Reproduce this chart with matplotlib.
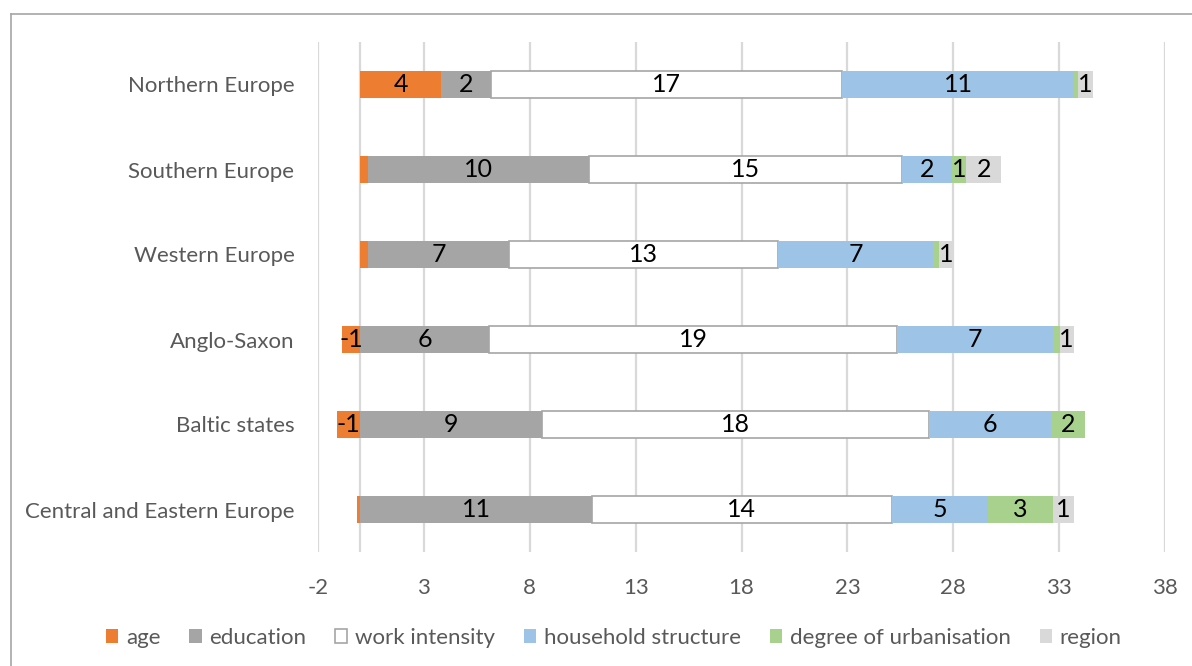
import matplotlib
matplotlib.use("Agg")
import matplotlib.pyplot as plt
from matplotlib.lines import Line2D
import numpy as np

plt.rcParams['font.family'] = ['Lato', 'DejaVu Sans']
plt.rcParams['axes.unicode_minus'] = False

regions = ["Northern Europe", "Southern Europe", "Western Europe",
           "Anglo-Saxon", "Baltic states", "Central and Eastern Europe"]

age = [3.8, 0.37, 0.37, -0.87, -1.1, -0.15]
education = [2.35, 10.45, 6.67, 6.06, 8.6, 10.92]
work_intensity = [16.6, 14.75, 12.68, 19.3, 18.27, 14.2]
household = [10.95, 2.35, 7.34, 7.34, 5.73, 4.52]
urbanisation = [0.17, 0.7, 0.25, 0.32, 1.63, 3.06]
region = [0.74, 1.65, 0.74, 0.67, 0.0, 1.0]

series = [
    ("age", age, "#ED7D31", "none"),
    ("education", education, "#A5A5A5", "none"),
    ("work intensity", work_intensity, "#FFFFFF", "#A5A5A5"),
    ("household structure", household, "#9DC3E6", "none"),
    ("degree of urbanisation", urbanisation, "#A9D18E", "none"),
    ("region", region, "#D9D9D9", "none"),
]

xticks = [-2, 3, 8, 13, 18, 23, 28, 33, 38]

fig = plt.figure(figsize=(11.92, 6.66), dpi=100)
ax = fig.add_axes([318 / 1192, 1 - 552 / 666, (1165 - 318) / 1192, (552 - 42) / 666])

y = np.arange(len(regions))
pos_left = np.zeros(len(regions))
neg_left = np.zeros(len(regions))
for name, vals, col, edge in series:
    vals = np.array(vals)
    left = np.where(vals >= 0, pos_left, neg_left)
    ax.barh(y, vals, left=left, height=0.31, color=col,
            edgecolor=edge, linewidth=1.2 if edge != "none" else 0,
            label=name, zorder=3)
    for i, v in enumerate(vals):
        if abs(round(v)) >= 1:
            ax.text(left[i] + v / 2, y[i], f"{round(v):d}", ha="center",
                    va="center", fontsize=18, color="black", zorder=4)
    pos_left = np.where(vals >= 0, pos_left + vals, pos_left)
    neg_left = np.where(vals < 0, neg_left + vals, neg_left)

ax.set_xlim(-2, 38)
ax.set_ylim(len(regions) - 0.5, -0.5)
ax.set_xticks(xticks)
ax.set_yticks(y)
ax.set_yticklabels(regions)
ax.tick_params(axis="both", length=0, labelsize=16, labelcolor="#595959")
ax.tick_params(axis="x", pad=19)
ax.tick_params(axis="y", pad=17)
for s in ax.spines.values():
    s.set_visible(False)
ax.grid(axis="x", color="#D9D9D9", linewidth=1.6, zorder=0)
ax.axvline(0, color="#D9D9D9", linewidth=1.6, zorder=1)

handles, labels = ax.get_legend_handles_labels()
fig.legend(handles, labels, loc="center", bbox_to_anchor=(0.515, 1 - 638 / 666),
           ncol=6, frameon=False, fontsize=16, labelcolor="#595959",
           handlelength=0.55, handleheight=0.55, handletextpad=0.35,
           columnspacing=1.3)

fig.add_artist(Line2D([10.5 / 1192, 1.0], [1 - 13.5 / 666, 1 - 13.5 / 666],
                      color="#A6A6A6", linewidth=1.2))
fig.add_artist(Line2D([10.5 / 1192, 10.5 / 1192], [0.0, 1 - 13.5 / 666],
                      color="#A6A6A6", linewidth=1.2))

fig.savefig("out.png", dpi=100)
